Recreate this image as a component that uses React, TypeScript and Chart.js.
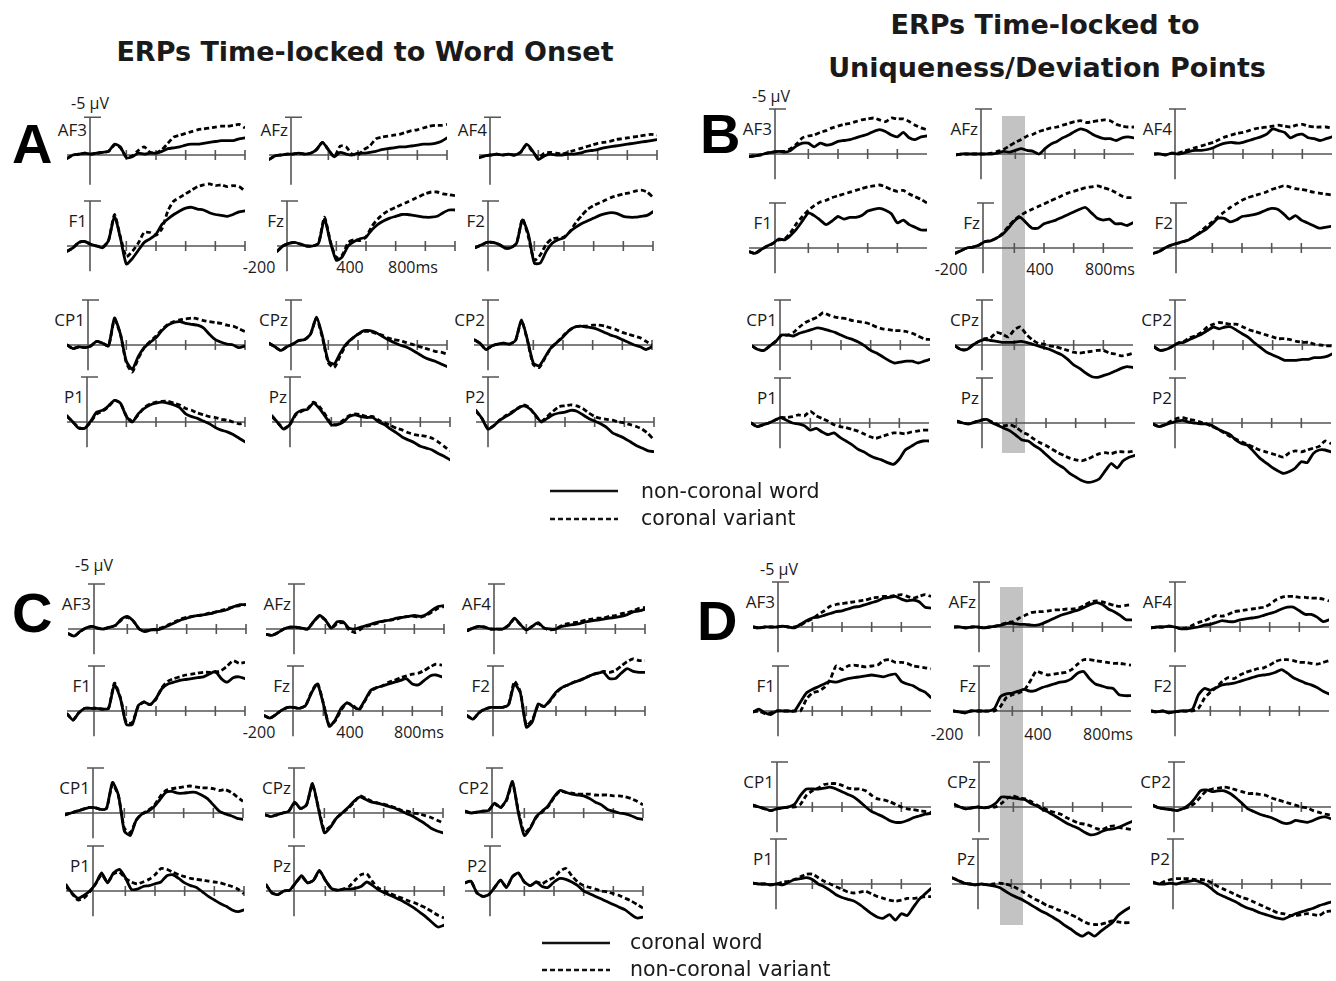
import React, { useEffect, useRef } from "react";
import { Chart, registerables } from "chart.js";
Chart.register(...registerables);

// ---------- time frame (ms) ----------
const FRAME_START = -150;
const FRAME_STEP = 40;
const FRAME_END = 1050;
const TICKS_AC = [250, 450, 650, 850, 1050];
const TICKS_BD = [250, 450, 650, 850];
const TIME_LABELS = ["-200", "400", "800ms"];
const ELECTRODES = [["AF3", "AFz", "AF4"], ["F1", "Fz", "F2"], ["CP1", "CPz", "CP2"], ["P1", "Pz", "P2"]];

// ---------- data (µV, negative up), sampled every 40 ms from -150 ms ----------
// Panel A
const A_AF3_S = [0.4,0,-0.1,-0.2,-0.1,-0.2,-0.3,-0.4,-1.2,-0.9,0.3,0.2,-0.2,-0.1,-0.2,-0.2,-0.4,-0.7,-0.8,-0.9,-1.1,-1.2,-1.2,-1.3,-1.4,-1.5,-1.6,-1.6,-1.6,-1.8,-1.9];
const A_AF3_D = [0.4,0,-0.1,-0.2,-0.1,-0.2,-0.3,-0.4,-1.1,-0.8,0.2,0.1,-0.5,-0.9,-0.3,-0.2,-0.6,-1.3,-2.0,-2.2,-2.4,-2.6,-2.8,-2.9,-3.0,-3.1,-3.2,-3.2,-3.3,-3.4,-3.0];
const A_AFz_S = [0.5,0.1,0,-0.1,-0.1,-0.2,-0.1,-0.2,-0.6,-1.4,-0.6,0.2,-0.3,-0.1,0,-0.2,-0.2,-0.3,-0.4,-0.6,-0.7,-0.8,-0.9,-0.9,-1.0,-1.1,-1.2,-1.2,-1.3,-1.5,-1.9];
const A_AFz_D = [0.5,0.1,0,-0.1,-0.1,-0.2,-0.1,-0.2,-0.6,-1.4,-0.6,0.2,-1.0,-0.9,-0.1,0,-0.6,-1.0,-1.8,-2.0,-2.1,-2.2,-2.3,-2.5,-2.7,-2.8,-3.0,-3.2,-3.3,-3.3,-3.4];
const A_AF4_S = [0.3,0.1,0,-0.1,0,-0.1,0,-0.3,-1.2,-0.5,0.5,0.1,-0.1,0,0,-0.1,-0.1,-0.2,-0.4,-0.5,-0.6,-0.8,-0.9,-1.0,-1.1,-1.2,-1.3,-1.4,-1.5,-1.6,-1.7];
const A_AF4_D = [0.3,0.1,0,-0.1,0,-0.1,0,-0.3,-1.1,-0.4,0.3,-0.2,-0.3,-0.2,-0.1,-0.3,-0.5,-0.7,-0.9,-1.1,-1.3,-1.4,-1.5,-1.7,-1.8,-1.9,-2.0,-2.1,-2.2,-2.3,-2.2];
const A_F1_S = [0.6,0.2,-0.4,-0.5,-0.2,0,0.2,-0.6,-3.3,-0.9,2.0,1.4,0.5,-0.4,-0.8,-1.3,-2.4,-3.0,-3.5,-3.9,-4.2,-4.3,-4.1,-4.0,-3.7,-3.5,-3.4,-3.3,-3.5,-3.8,-3.9];
const A_F1_D = [0.6,0.2,-0.4,-0.5,-0.2,0,0.1,-0.6,-3.5,-1.0,1.2,0.6,-0.3,-1.5,-1.5,-1.2,-1.9,-3.9,-5.0,-5.4,-5.8,-6.2,-6.6,-6.8,-6.9,-6.7,-6.8,-6.6,-6.7,-6.6,-6.1];
const A_Fz_S = [0.6,0,-0.3,-0.4,-0.2,0,0,-0.3,-3.0,-0.4,1.6,1.2,0,-0.5,-0.8,-1.0,-1.8,-2.4,-2.8,-3.1,-3.3,-3.5,-3.5,-3.4,-3.3,-3.2,-3.2,-3.3,-3.7,-4.0,-4.0];
const A_Fz_D = [0.6,0,-0.3,-0.4,-0.2,0,0,-0.3,-3.2,-0.5,1.3,1.0,-0.4,-0.7,-0.6,-1.0,-2.2,-3.0,-3.6,-4.0,-4.3,-4.6,-4.9,-5.2,-5.5,-5.8,-6.0,-6.0,-5.8,-5.7,-5.6];
const A_F2_S = [0.2,-0.1,-0.4,-0.4,-0.2,0.2,0.2,-0.3,-2.9,-1.3,1.9,1.9,0.6,-0.3,-0.7,-0.9,-1.6,-2.1,-2.5,-2.8,-3.1,-3.4,-3.6,-3.7,-3.6,-3.3,-3.2,-3.2,-3.3,-3.4,-3.8];
const A_F2_D = [0.2,-0.1,-0.4,-0.4,-0.2,0.2,0.2,-0.3,-3.0,-1.0,1.6,1.0,-0.2,-0.8,-0.9,-1.0,-1.6,-2.6,-3.4,-4.1,-4.5,-4.8,-5.1,-5.4,-5.6,-5.8,-5.9,-6.1,-6.2,-6.0,-5.4];
const A_CP1_S = [0,0.4,0.2,0.3,0.1,-0.4,-0.2,0.1,-3.0,-1.2,1.8,2.7,1.3,0.3,-0.3,-0.8,-1.6,-2.2,-2.5,-2.6,-2.4,-2.3,-2.2,-1.9,-1.2,-0.6,-0.3,-0.1,0,0.3,0.1];
const A_CP1_D = [0,0.4,0.2,0.3,0.1,-0.4,-0.2,0.1,-2.8,-1.2,2.0,3.0,1.5,0.3,-0.4,-1.0,-1.7,-2.3,-2.6,-2.8,-2.9,-3.0,-2.9,-2.7,-2.6,-2.5,-2.4,-2.2,-2.1,-1.8,-1.5];
const A_CPz_S = [-0.2,0.2,0.6,0.2,-0.1,-0.5,-0.6,-1.2,-3.1,-1.0,1.8,2.1,0.9,-0.1,-0.7,-1.2,-1.6,-1.6,-1.4,-1.0,-0.6,-0.3,0,0.2,0.5,0.9,1.3,1.6,1.8,2.1,2.4];
const A_CPz_D = [-0.2,0.2,0.6,0.2,-0.1,-0.5,-0.6,-1.2,-3.0,-0.8,2.0,2.5,1.2,0,-0.7,-1.2,-1.5,-1.5,-1.3,-1.1,-0.8,-0.6,-0.5,-0.3,-0.1,0.1,0.3,0.5,0.7,0.8,1.0];
const A_CP2_S = [-0.6,-0.2,0.5,0.1,-0.1,-0.2,-0.1,-0.5,-2.8,-0.6,2.0,2.3,1.3,0.3,-0.3,-0.9,-1.6,-2.0,-2.1,-2.0,-1.9,-1.7,-1.4,-1.1,-0.9,-0.6,-0.3,0,0.2,0.5,0.2];
const A_CP2_D = [-0.6,-0.2,0.5,0.1,-0.1,-0.2,-0.1,-0.5,-2.7,-0.5,2.2,2.5,1.4,0.3,-0.3,-1.0,-1.6,-2.0,-2.1,-2.1,-2.2,-2.2,-2.1,-1.9,-1.7,-1.4,-1.2,-1.0,-0.8,-0.4,0];
const A_P1_S = [-0.7,0,0.7,0.7,-0.1,-1.1,-1.3,-1.8,-2.4,-2.1,-0.6,0,-0.9,-1.5,-1.9,-2.1,-2.2,-2.1,-1.9,-1.6,-0.9,-0.6,-0.4,-0.1,0.2,0.6,0.9,1.1,1.4,1.8,2.2];
const A_P1_D = [-0.6,0,0.6,0.7,0,-0.9,-1.2,-1.7,-2.4,-2.1,-0.7,-0.1,-0.8,-1.6,-2.0,-2.2,-2.3,-2.3,-2.1,-1.9,-1.5,-1.3,-1.0,-0.8,-0.6,-0.5,-0.3,-0.2,0,0.2,0.1];
const A_Pz_S = [-0.7,0.1,0.8,0.3,-0.9,-1.3,-1.4,-2.1,-1.5,-0.6,0.3,0.3,0,-0.6,-0.8,-0.6,-0.5,-0.5,0,0.3,0.8,1.2,1.7,2.0,2.3,2.7,2.9,3.1,3.5,3.8,4.2];
const A_Pz_D = [-0.6,0.1,0.7,0.3,-0.8,-1.2,-1.5,-2.2,-1.7,-0.8,0.2,0.3,-0.2,-0.7,-0.9,-0.8,-0.6,-0.6,-0.2,0.1,0.4,0.7,0.9,1.2,1.4,1.5,1.6,1.8,2.2,2.7,3.2];
const A_P2_S = [-1.3,-0.4,0.8,0.4,-0.2,-0.6,-1.0,-1.5,-1.8,-1.5,-0.8,0,-0.4,-0.8,-1.0,-1.1,-1.3,-1.2,-0.8,-0.4,-0.1,0.2,0.6,1.2,1.5,1.8,2.2,2.6,2.9,3.2,3.3];
const A_P2_D = [-1.2,-0.4,0.7,0.4,-0.2,-0.7,-1.1,-1.5,-1.9,-1.6,-0.7,-0.1,-0.6,-1.2,-1.7,-1.8,-1.9,-1.8,-1.5,-1.0,-0.6,-0.4,-0.3,-0.2,0,0.1,0.3,0.5,0.8,1.3,2.0];
// Panel B
const B_AF3_S = [0.3,0.2,0.1,-0.1,-0.2,-0.3,-0.2,-0.4,-0.9,-1.2,-1.2,-0.8,-1.2,-1.0,-1.1,-1.4,-1.5,-1.6,-1.8,-2.0,-2.2,-2.5,-2.7,-2.5,-2.1,-1.9,-2.4,-1.8,-1.6,-1.9,-2.0];
const B_AF3_D = [0.3,0.2,0.1,-0.1,-0.2,-0.3,-0.3,-0.6,-1.1,-1.8,-2.0,-2.1,-2.4,-2.6,-2.9,-3.1,-3.3,-3.4,-3.6,-3.8,-3.9,-4.0,-3.8,-3.6,-4.0,-3.9,-3.9,-3.6,-3.2,-2.9,-2.7];
const B_AFz_S = [0.1,0,0,0,0,0,0,-0.1,-0.3,-0.2,-0.4,-0.6,-0.4,-0.3,0,-0.6,-1.1,-1.4,-1.8,-2.1,-2.5,-2.8,-2.6,-2.2,-1.9,-1.7,-1.7,-1.5,-1.8,-1.9,-1.8];
const B_AFz_D = [0.1,0,0,0,0,0,-0.1,-0.3,-0.5,-0.9,-1.3,-1.6,-2.0,-2.2,-2.5,-2.7,-2.9,-3.0,-3.2,-3.4,-3.6,-3.7,-3.5,-3.6,-3.7,-3.8,-3.7,-3.3,-3.1,-3.0,-3.0];
const B_AF4_S = [0,0,0.1,-0.1,0,-0.1,-0.3,-0.4,-0.4,-0.5,-0.7,-1.0,-1.2,-1.3,-1.2,-1.3,-1.5,-1.7,-1.9,-2.2,-2.8,-2.6,-2.4,-1.8,-2.1,-2.2,-1.8,-1.7,-1.5,-1.7,-1.9];
const B_AF4_D = [0,0,0.1,-0.1,-0.1,-0.3,-0.5,-0.7,-0.9,-1.1,-1.3,-1.6,-1.9,-2.1,-2.3,-2.4,-2.6,-2.8,-2.9,-3.0,-3.1,-3.2,-3.1,-3.0,-3.2,-3.3,-3.1,-3.0,-3.0,-3.0,-2.9];
const B_F1_S = [0.4,0.6,0.2,-0.2,-0.5,-1.0,-0.9,-1.4,-2.1,-3.0,-3.9,-3.6,-3.1,-2.6,-3.0,-3.5,-3.2,-3.4,-3.4,-3.6,-4.1,-4.3,-4.4,-4.2,-3.8,-2.8,-3.1,-2.6,-2.3,-2.0,-2.0];
const B_F1_D = [0.4,0.6,0.2,-0.2,-0.5,-0.9,-1.0,-1.7,-2.7,-3.5,-4.2,-4.7,-5.1,-5.3,-5.6,-5.8,-6.0,-6.2,-6.4,-6.6,-6.8,-6.9,-7.0,-6.8,-6.5,-6.3,-6.4,-6.0,-5.7,-5.4,-5.0];
const B_Fz_S = [0.6,0.3,0,-0.1,-0.3,-0.7,-0.8,-1.1,-1.5,-2.2,-3.0,-3.4,-2.8,-2.2,-2.2,-2.7,-2.9,-3.1,-3.4,-3.7,-4.0,-4.3,-4.5,-3.9,-3.3,-3.1,-3.2,-2.7,-2.7,-2.5,-2.8];
const B_Fz_D = [0.6,0.3,0,-0.1,-0.3,-0.7,-0.8,-1.1,-1.6,-2.4,-3.1,-3.6,-4.0,-4.3,-4.6,-4.9,-5.2,-5.5,-5.8,-6.1,-6.3,-6.5,-6.7,-6.8,-6.9,-6.7,-6.5,-6.2,-5.8,-5.6,-5.6];
const B_F2_S = [0.6,0.4,0,-0.3,-0.5,-0.7,-0.9,-1.3,-1.7,-2.1,-2.7,-3.3,-3.3,-2.9,-3.1,-3.5,-3.6,-3.7,-3.9,-4.2,-4.4,-4.3,-3.8,-3.2,-3.6,-3.1,-2.8,-2.5,-2.2,-2.3,-2.4];
const B_F2_D = [0.6,0.4,0,-0.3,-0.5,-0.7,-0.9,-1.3,-1.8,-2.4,-2.9,-3.5,-4.0,-4.5,-4.9,-5.3,-5.6,-5.8,-6.0,-6.2,-6.5,-6.7,-6.9,-6.8,-6.6,-6.5,-6.4,-6.2,-6.1,-6.0,-5.9];
const B_CP1_S = [0.1,0.5,0.6,0.1,-0.4,-1.1,-1.1,-1.0,-1.3,-1.5,-1.7,-1.9,-1.8,-1.6,-1.4,-1.1,-0.8,-0.6,-0.3,0.1,0.6,0.9,1.3,1.7,2.0,1.9,1.8,1.8,2.0,1.8,1.6];
const B_CP1_D = [0.1,0.5,0.6,0.1,-0.4,-1.1,-1.1,-1.4,-2.0,-2.5,-2.8,-3.1,-3.6,-3.3,-3.1,-3.0,-2.9,-2.7,-2.6,-2.5,-2.3,-2.0,-1.8,-1.7,-1.6,-1.6,-1.5,-1.3,-1.0,-0.7,-0.6];
const B_CPz_S = [0.1,0.5,0.5,0,-0.4,-0.6,-0.5,-0.4,-0.3,-0.3,-0.3,-0.4,-0.3,-0.1,0.1,0.3,0.5,0.8,1.1,1.6,2.2,2.6,3.1,3.5,3.6,3.4,3.2,2.9,2.6,2.4,2.5];
const B_CPz_D = [0.1,0.5,0.5,0,-0.4,-0.7,-0.8,-1.4,-1.2,-0.9,-1.7,-2.0,-1.2,-0.6,-0.2,-0.1,0.1,0.2,0.4,0.6,0.8,0.9,0.8,0.7,0.6,0.6,0.9,1.0,1.2,1.1,0.9];
const B_CP2_S = [0.2,0.6,0.5,0.2,-0.2,-0.3,-0.6,-0.9,-1.2,-1.6,-2.0,-1.8,-2.0,-2.0,-1.6,-1.2,-0.8,-0.2,0.3,0.8,1.1,1.4,1.7,1.7,1.7,1.6,1.6,1.4,1.4,1.3,1.0];
const B_CP2_D = [0.2,0.6,0.5,0.2,-0.2,-0.4,-0.8,-1.0,-1.4,-2.0,-2.3,-2.5,-2.4,-2.3,-2.3,-2.0,-1.7,-1.5,-1.3,-1.1,-0.9,-0.7,-0.7,-0.6,-0.4,-0.3,-0.3,-0.1,0,0.1,0.1];
const B_P1_S = [0,0.4,0.2,0,-0.3,-0.6,-0.3,0,0.1,0.3,0.8,0.6,1.0,1.3,1.1,1.6,2.0,2.4,2.9,3.2,3.6,3.9,4.1,4.4,4.6,4.0,3.0,2.6,2.2,2.0,2.0];
const B_P1_D = [0,0.4,0.2,0,-0.3,-0.6,-0.6,-0.7,-0.9,-0.8,-1.3,-0.8,-0.5,-0.2,0.2,0.4,0.5,0.7,0.9,1.2,1.5,1.7,1.5,1.3,1.1,1.1,1.2,1.0,0.9,0.8,0.8];
const B_Pz_S = [-0.2,0,0.1,-0.1,-0.3,-0.4,0,0.3,0.6,0.9,1.4,1.9,2.0,2.5,2.9,3.5,4.1,4.6,5.0,5.6,6.0,6.4,6.6,6.5,6.2,5.3,4.5,5.0,4.2,3.8,3.6];
const B_Pz_D = [-0.2,0,0.1,-0.1,-0.3,-0.4,-0.1,0.2,0.3,0.2,0.5,1.0,1.3,1.8,2.2,2.5,2.9,3.3,3.6,3.9,4.1,4.2,4.0,3.7,3.4,3.3,3.4,3.2,3.2,3.2,3.1];
const B_P2_S = [0.1,0.4,0.2,0,-0.2,-0.3,-0.1,0,0.1,0.1,0.3,0.7,1.0,1.3,1.9,2.3,2.5,3.2,3.9,4.4,4.9,5.3,5.6,5.4,5.0,4.3,4.4,3.4,3.0,3.0,3.2];
const B_P2_D = [0.1,0.4,0.2,-0.2,-0.5,-0.6,-0.4,-0.3,-0.1,0.1,0.4,0.7,1.1,1.5,1.8,2.1,2.4,2.7,3.0,3.2,3.4,3.6,3.8,3.3,3.1,3.2,3.0,2.8,2.6,2.0,2.3];
// Panel C
const C_AF3_S = [0.5,0.8,0.3,-0.1,-0.3,-0.1,0,-0.2,-0.4,-1.1,-1.4,-0.9,0,0.3,0.1,0.1,-0.1,-0.4,-0.7,-1.0,-1.2,-1.4,-1.5,-1.6,-1.7,-1.9,-2.0,-2.2,-2.5,-2.7,-2.7];
const C_AF3_D = [0.5,0.8,0.3,-0.1,-0.3,-0.1,0,-0.2,-0.4,-1.0,-1.3,-0.9,0,0.2,0.1,0,-0.2,-0.5,-0.8,-1.1,-1.3,-1.4,-1.5,-1.6,-1.8,-1.9,-2.1,-2.3,-2.5,-2.6,-2.7];
const C_AFz_S = [0.6,0.7,0.4,0,-0.2,-0.2,-0.1,0,-0.8,-1.5,-1.0,-0.1,-0.8,-0.8,-0.1,0,-0.2,-0.4,-0.6,-0.8,-0.9,-1.0,-1.2,-1.3,-1.4,-1.5,-1.4,-1.6,-2.1,-2.5,-2.6];
const C_AFz_D = [0.6,0.7,0.4,0,-0.2,-0.2,-0.1,0,-0.8,-1.4,-1.0,-0.1,-0.6,-0.7,0.1,0.4,0,-0.3,-0.5,-0.7,-0.9,-1.0,-1.1,-1.3,-1.4,-1.4,-1.3,-1.5,-1.9,-2.3,-2.5];
const C_AF4_S = [0.2,-0.1,-0.3,-0.2,0,0,0,-0.4,-1.2,-0.5,0.1,-0.3,-0.7,-0.1,0,0,-0.3,-0.4,-0.5,-0.6,-0.8,-0.9,-1.0,-1.1,-1.2,-1.3,-1.4,-1.6,-1.9,-2.0,-2.2];
const C_AF4_D = [0.2,-0.1,-0.3,-0.2,0,0,0,-0.4,-1.1,-0.5,0.1,-0.3,-0.6,-0.1,0.1,0,-0.4,-0.6,-0.7,-0.8,-1.0,-1.1,-1.2,-1.2,-1.4,-1.5,-1.7,-1.8,-2.0,-2.3,-2.4];
const C_F1_S = [0.3,1.0,0.2,-0.3,-0.3,-0.3,-0.2,-0.3,-2.9,-1.4,1.5,1.5,-0.6,-1.0,-0.7,-1.4,-2.5,-3.0,-3.2,-3.4,-3.5,-3.6,-3.7,-3.8,-4.1,-4.4,-3.6,-3.2,-3.7,-3.8,-3.6];
const C_F1_D = [0.3,1.0,0.2,-0.3,-0.3,-0.3,-0.2,-0.3,-3.1,-1.5,1.3,1.3,-0.5,-1.0,-0.7,-1.3,-2.6,-3.3,-3.6,-3.8,-4.0,-4.1,-4.2,-4.3,-4.3,-4.3,-4.5,-5.0,-5.6,-5.3,-5.4];
const C_Fz_S = [0.5,0.8,0.4,-0.1,-0.4,-0.4,-0.3,-0.6,-2.0,-3.0,-0.8,1.7,1.0,-0.3,-0.9,-0.5,-0.2,-1.2,-2.3,-2.6,-2.8,-3.0,-3.2,-3.4,-3.6,-3.0,-2.9,-3.4,-3.9,-4.0,-3.8];
const C_Fz_D = [0.5,0.8,0.4,-0.1,-0.4,-0.4,-0.3,-0.6,-2.1,-3.1,-0.9,1.6,1.1,-0.1,-0.9,-0.6,-0.1,-1.1,-2.2,-2.6,-2.8,-3.2,-3.4,-3.7,-3.9,-4.1,-4.2,-4.5,-4.9,-5.2,-5.1];
const C_F2_S = [0.5,0.9,0.2,-0.2,-0.4,-0.4,-0.4,-0.7,-3.0,-2.0,1.8,1.2,-0.8,-0.5,-1.2,-2.1,-2.6,-2.9,-3.2,-3.4,-3.7,-4.0,-4.2,-4.3,-3.6,-3.6,-4.2,-4.7,-4.4,-4.3,-4.3];
const C_F2_D = [0.5,0.9,0.2,-0.2,-0.4,-0.4,-0.4,-0.7,-3.3,-2.1,1.6,1.0,-0.6,-0.5,-1.1,-2.0,-2.6,-2.9,-3.2,-3.4,-3.7,-4.0,-4.2,-4.4,-4.3,-4.5,-5.0,-5.5,-5.8,-5.6,-5.6];
const C_CP1_S = [0.2,0,-0.2,-0.4,-0.6,-0.6,-0.4,-0.5,-3.4,-2.0,2.0,2.5,0.8,0.1,-0.2,-0.7,-1.5,-2.3,-2.4,-2.2,-2.2,-2.3,-2.3,-2.0,-1.6,-0.9,-0.2,0.1,0.3,0.6,0.7];
const C_CP1_D = [0.2,0,-0.2,-0.4,-0.6,-0.6,-0.4,-0.5,-3.2,-1.9,1.7,2.2,0.8,0.1,-0.3,-0.8,-1.8,-2.5,-2.7,-2.8,-2.9,-3.0,-2.9,-2.8,-2.8,-2.7,-2.5,-2.6,-2.3,-1.8,-1.3];
const C_CPz_S = [0.2,0.4,0.2,0,-0.2,-1.2,-0.5,-0.9,-3.3,-0.5,2.2,1.6,0.6,0,-0.6,-1.3,-1.8,-1.5,-1.2,-1.1,-0.9,-0.7,-0.5,-0.2,0.1,0.4,0.8,1.2,1.7,2.0,2.2];
const C_CPz_D = [0.2,0.4,0.2,0,-0.2,-1.1,-0.5,-0.9,-3.1,-0.6,1.9,1.5,0.6,0,-0.5,-1.2,-1.9,-1.6,-1.3,-1.1,-1.0,-0.8,-0.6,-0.3,-0.2,0,0.1,0.3,0.5,0.8,1.1];
const C_CP2_S = [-0.2,0,-0.1,-0.2,-0.3,-1.1,-0.6,-1.5,-3.5,0,2.5,1.7,0.4,-0.2,-0.8,-1.8,-2.5,-2.3,-2.1,-2.0,-1.9,-1.6,-1.2,-0.9,-0.4,-0.2,0,0.1,0.3,0.6,0.7];
const C_CP2_D = [-0.2,0,-0.1,-0.2,-0.3,-1.0,-0.6,-1.4,-3.3,-0.2,2.2,1.6,0.5,-0.1,-0.7,-1.7,-2.4,-2.3,-2.2,-2.1,-2.1,-2.1,-2.0,-2.0,-2.0,-1.9,-1.9,-1.8,-1.6,-1.3,-0.9];
const C_P1_S = [-0.7,0.2,0.8,0.5,0,-0.8,-2.0,-0.9,-2.0,-2.4,-1.5,-0.2,-0.2,-0.5,-0.6,-0.8,-1.0,-1.7,-1.8,-1.4,-0.9,-0.6,-0.4,0.1,0.6,1.0,1.4,1.7,2.1,2.3,2.1];
const C_P1_D = [-0.5,0.3,1.0,0.8,0.1,-0.8,-1.8,-1.0,-1.9,-2.1,-1.4,-1.0,-0.8,-1.0,-1.3,-1.8,-2.5,-2.4,-2.1,-1.8,-1.6,-1.4,-1.3,-1.2,-1.1,-1.0,-0.9,-0.7,-0.5,-0.2,0.3];
const C_Pz_S = [-0.7,0.2,0.4,0,-0.1,-0.9,-1.7,-0.9,-1.2,-2.3,-1.2,-0.3,-0.1,-0.2,-0.2,-0.3,-0.5,-1.0,-0.6,-0.1,0.2,0.5,0.8,1.1,1.5,1.9,2.4,2.9,3.5,4.0,3.8];
const C_Pz_D = [-0.7,0.2,0.4,0,-0.1,-0.9,-1.6,-0.9,-1.2,-2.2,-1.2,-0.3,-0.1,-0.2,-0.5,-1.2,-1.8,-1.9,-1.0,-0.3,0,0.3,0.6,0.8,1.1,1.3,1.6,1.9,2.3,2.7,3.0];
const C_P2_S = [-0.9,-1.1,0.2,0.6,0.4,-0.4,-1.2,-0.4,-1.6,-2.0,-1.0,-0.6,-1.0,-0.5,-0.4,-1.0,-1.4,-1.3,-1.0,-0.6,0,0.3,0.6,0.9,1.2,1.5,1.8,2.1,2.6,3.0,2.9];
const C_P2_D = [-0.9,-1.1,0.2,0.6,0.4,-0.4,-1.2,-0.4,-1.6,-2.0,-1.0,-0.6,-1.0,-0.8,-1.2,-1.5,-2.2,-2.5,-1.7,-1.0,-0.6,-0.4,-0.2,0,0.1,0.3,0.5,0.8,1.1,1.5,1.9];
// Panel D
const D_AF3_S = [0,0.1,0,0,0,-0.1,0,0.1,-0.3,-0.7,-1.0,-1.1,-1.3,-1.5,-1.7,-1.8,-2.0,-2.2,-2.3,-2.5,-2.7,-2.9,-3.2,-3.3,-3.4,-3.1,-2.9,-3.0,-2.8,-2.2,-2.1];
const D_AF3_D = [0,0.1,0,0,0,-0.1,0,0,-0.2,-0.6,-0.9,-1.4,-1.8,-2.3,-2.5,-2.6,-2.7,-2.8,-2.9,-3.0,-3.2,-3.3,-3.4,-3.4,-3.5,-3.6,-3.4,-3.2,-3.4,-3.6,-3.4];
const D_AFz_S = [0,0,0.1,0,0,0.1,0,-0.1,-0.2,-0.4,-0.4,-0.3,-0.3,-0.2,-0.2,-0.4,-0.7,-1.0,-1.3,-1.5,-1.7,-1.9,-2.2,-2.5,-2.7,-2.5,-2.0,-1.7,-1.3,-0.8,-0.8];
const D_AFz_D = [0,0,0.1,0,0,0.1,0,-0.1,-0.3,-0.5,-0.6,-1.0,-1.3,-1.6,-1.7,-1.7,-1.8,-1.9,-1.9,-2.0,-2.0,-2.1,-2.4,-2.8,-2.9,-2.8,-2.6,-2.4,-2.3,-2.4,-2.5];
const D_AF4_S = [0.1,0,0,-0.1,0,0.2,0.2,0.1,0,-0.2,-0.3,-0.5,-0.7,-0.6,-0.6,-0.8,-0.9,-1.0,-1.1,-1.3,-1.5,-1.7,-2.0,-2.2,-2.2,-1.8,-1.4,-1.4,-1.1,-0.6,-0.8];
const D_AF4_D = [0.1,0,0,-0.1,0,0.2,0.1,-0.2,-0.5,-0.7,-1.0,-1.3,-1.2,-1.4,-1.7,-1.8,-1.9,-2.0,-2.1,-2.2,-2.5,-3.0,-3.3,-3.4,-3.4,-3.3,-3.3,-3.2,-3.2,-3.1,-2.9];
const D_F1_S = [0.1,-0.2,0.2,0.4,0,0,0,0,-1.0,-2.0,-2.4,-2.7,-3.0,-3.3,-3.2,-3.4,-3.6,-3.7,-3.8,-3.9,-4.0,-3.9,-3.8,-4.0,-4.1,-3.3,-3.0,-2.8,-2.4,-2.1,-1.5];
const D_F1_D = [0.1,0,0.3,0.2,0,0,0,0,0,-1.3,-2.0,-2.2,-2.6,-3.5,-5.0,-4.6,-5.0,-5.1,-5.0,-4.9,-5.0,-5.1,-5.6,-5.7,-5.4,-5.4,-5.3,-5.0,-4.9,-4.8,-4.7];
const D_Fz_S = [0,0.1,0.2,0,0,0,0,-0.3,-1.6,-1.9,-2.0,-2.2,-2.4,-2.2,-2.3,-2.6,-2.8,-3.0,-3.2,-3.3,-3.6,-4.2,-4.4,-3.6,-3.0,-2.8,-2.6,-2.5,-1.8,-1.7,-1.7];
const D_Fz_D = [0,0.1,0.2,0,0,0,0,0,-0.5,-1.5,-1.8,-2.0,-2.3,-3.3,-4.4,-4.2,-4.0,-4.1,-4.2,-4.3,-4.6,-5.2,-5.7,-5.7,-5.6,-5.5,-5.4,-5.3,-5.3,-5.2,-5.1];
const D_F2_S = [0,0.1,0,0.2,0.1,0,0,-0.2,-1.8,-2.5,-2.3,-2.6,-2.9,-3.0,-3.1,-3.3,-3.5,-3.7,-3.9,-4.0,-4.1,-4.3,-4.6,-4.2,-3.7,-3.4,-3.1,-2.9,-2.6,-2.2,-1.9];
const D_F2_D = [0,0.1,0,0.2,0.1,0,0,0,-0.3,-1.4,-2.1,-2.6,-3.3,-3.7,-3.6,-4.0,-4.3,-4.5,-4.7,-4.8,-5.1,-5.5,-5.7,-5.7,-5.6,-5.4,-5.4,-5.3,-5.2,-5.4,-5.6];
const D_CP1_S = [-0.2,0,0.2,0.4,0.2,0.1,0,-0.3,-1.3,-2.0,-2.0,-2.0,-2.1,-2.2,-2.0,-1.7,-1.4,-1.1,-0.6,0,0.5,0.8,1.1,1.5,1.7,1.7,1.5,1.2,1.0,0.8,0.7];
const D_CP1_D = [-0.2,0,0.2,0.4,0.2,0.1,0,0,-0.3,-1.3,-1.8,-2.1,-2.5,-2.6,-2.6,-2.4,-2.1,-2.0,-2.0,-1.8,-1.3,-0.9,-0.8,-0.6,-0.3,0,0.2,0.3,0.4,0.5,0.6];
const D_CPz_S = [-0.3,0,0.2,0.1,0,0.1,0,-0.4,-1.1,-1.1,-1.0,-0.9,-0.8,-0.4,-0.1,0.3,0.6,1.0,1.4,1.8,2.1,2.4,2.8,3.1,3.0,2.7,2.5,2.4,2.2,1.9,1.6];
const D_CPz_D = [-0.3,0,0.2,0.1,0,0.1,0,0,-0.4,-1.0,-1.2,-1.0,-0.9,-0.6,-0.2,0.1,0.4,0.6,0.8,1.2,1.5,1.8,1.9,2.1,2.4,2.5,2.2,2.1,2.3,2.4,2.5];
const D_CP2_S = [-0.2,0.1,0.2,0.3,0.4,0.2,-0.2,-0.9,-1.8,-1.9,-1.7,-1.8,-1.8,-1.5,-1.0,-0.4,0.2,0.5,0.8,1.0,1.2,1.5,1.8,1.8,1.5,1.6,1.7,1.5,1.2,1.1,1.3];
const D_CP2_D = [-0.2,0.1,0.2,0.3,0.4,0.2,0,-0.4,-1.1,-1.8,-2.0,-2.1,-2.2,-2.1,-1.9,-1.7,-1.5,-1.5,-1.4,-1.3,-1.0,-0.8,-0.6,-0.4,-0.2,0,0.1,0.4,0.6,0.8,0.9];
const D_P1_S = [-0.1,0,0,0.1,0,0.1,-0.2,-0.5,-0.6,-0.7,-0.5,0,0.3,0.7,1.2,1.5,1.7,1.9,2.3,2.8,3.3,3.7,3.8,3.4,4.0,3.3,3.5,2.6,1.7,1.1,0.5];
const D_P1_D = [-0.1,0,0,0.1,0,-0.2,-0.3,-0.5,-0.8,-1.1,-1.1,-0.7,-0.3,0,0.3,0.6,0.9,1.0,0.9,0.8,1.1,1.4,1.6,1.8,1.9,1.8,1.6,1.6,1.5,1.4,1.4];
const D_Pz_S = [-0.7,-0.4,-0.1,0,0.1,0,0.1,0.2,0.4,0.8,1.2,1.5,1.8,2.2,2.6,3.0,3.3,3.7,4.1,4.6,5.0,5.5,5.8,5.4,5.8,5.3,4.8,4.3,3.5,3.0,2.6];
const D_Pz_D = [-0.7,-0.4,-0.1,0,0.1,0,0.1,0,-0.1,0,0.2,0.5,0.9,1.3,1.7,2.0,2.4,2.6,2.9,3.1,3.4,3.7,4.1,4.4,4.5,4.5,4.3,4.1,4.2,4.3,4.3];
const D_P2_S = [-0.2,0,0,-0.1,0,-0.2,-0.3,-0.4,-0.2,0.1,0.6,1.1,1.4,1.7,2.0,2.4,2.7,2.9,3.2,3.4,3.6,3.8,3.9,3.6,3.3,3.1,2.9,2.7,2.4,2.2,2.0];
const D_P2_D = [-0.2,0,-0.3,-0.5,-0.6,-0.6,-0.6,-0.5,-0.5,-0.4,-0.1,0.3,0.6,0.9,1.2,1.5,1.7,2.0,2.3,2.6,2.9,3.2,3.3,3.5,3.5,3.4,3.3,3.4,3.5,3.1,3.0];

const SERIES: Record<string, number[][][][]> = {
  A: [[[A_AF3_S, A_AF3_D], [A_AFz_S, A_AFz_D], [A_AF4_S, A_AF4_D]], [[A_F1_S, A_F1_D], [A_Fz_S, A_Fz_D], [A_F2_S, A_F2_D]], [[A_CP1_S, A_CP1_D], [A_CPz_S, A_CPz_D], [A_CP2_S, A_CP2_D]], [[A_P1_S, A_P1_D], [A_Pz_S, A_Pz_D], [A_P2_S, A_P2_D]]],
  B: [[[B_AF3_S, B_AF3_D], [B_AFz_S, B_AFz_D], [B_AF4_S, B_AF4_D]], [[B_F1_S, B_F1_D], [B_Fz_S, B_Fz_D], [B_F2_S, B_F2_D]], [[B_CP1_S, B_CP1_D], [B_CPz_S, B_CPz_D], [B_CP2_S, B_CP2_D]], [[B_P1_S, B_P1_D], [B_Pz_S, B_Pz_D], [B_P2_S, B_P2_D]]],
  C: [[[C_AF3_S, C_AF3_D], [C_AFz_S, C_AFz_D], [C_AF4_S, C_AF4_D]], [[C_F1_S, C_F1_D], [C_Fz_S, C_Fz_D], [C_F2_S, C_F2_D]], [[C_CP1_S, C_CP1_D], [C_CPz_S, C_CPz_D], [C_CP2_S, C_CP2_D]], [[C_P1_S, C_P1_D], [C_Pz_S, C_Pz_D], [C_P2_S, C_P2_D]]],
  D: [[[D_AF3_S, D_AF3_D], [D_AFz_S, D_AFz_D], [D_AF4_S, D_AF4_D]], [[D_F1_S, D_F1_D], [D_Fz_S, D_Fz_D], [D_F2_S, D_F2_D]], [[D_CP1_S, D_CP1_D], [D_CPz_S, D_CPz_D], [D_CP2_S, D_CP2_D]], [[D_P1_S, D_P1_D], [D_Pz_S, D_Pz_D], [D_P2_S, D_P2_D]]],
};

// window highlighted in the uniqueness-point panels (frame ms)
const UP_WINDOW = [165, 320];

// ---------- layout (page px) ----------
const FRAME_W = 178;
const PX_PER_UV = 9;
const Y_MIN = -8, Y_MAX = 8;
const PAD = 6;
const LAYOUT: Record<string, { left: number[][]; axis: number[][]; base: number[] }> = {
  A: { left: [[67, 269, 479], [67, 277, 475], [67, 269, 474], [67, 272, 476]], axis: [[90, 291, 490], [90, 287, 488], [88, 291, 488], [87, 290, 488]], base: [155, 246, 345, 422] },
  B: { left: [[749, 956, 1154], [749, 955, 1153], [752, 955, 1154], [751, 957, 1153]], axis: [[775, 981, 1175], [775, 983, 1176], [780, 982, 1175], [780, 982, 1175]], base: [154, 248, 345, 423] },
  C: { left: [[68, 266, 467], [67, 264, 467], [65, 265, 465], [66, 266, 465]], axis: [[94, 294, 494], [94, 293, 493], [93, 294, 492], [93, 294, 490]], base: [629, 711, 813, 891] },
  D: { left: [[753, 954, 1151], [753, 953, 1151], [753, 954, 1153], [753, 952, 1153]], axis: [[778, 979, 1175], [778, 979, 1175], [777, 979, 1174], [776, 978, 1173]], base: [627, 711, 807, 884] },
};
const TIME_LABEL_POS: Record<string, number[][]> = {
  A: [[259, 268], [350, 268], [413, 268]],
  B: [[951, 270], [1040, 270], [1110, 270]],
  C: [[259, 733], [350, 733], [419, 733]],
  D: [[947, 735], [1038, 735], [1108, 735]],
};
const UV_LABEL_POS: Record<string, number[]> = { A: [90, 104], B: [771, 97], C: [94, 566], D: [779, 570] };
const LETTER_POS: Record<string, number[]> = { A: [12, 163], B: [700, 153], C: [12, 632], D: [697, 640] };
const BAR_V: Record<string, number[]> = { B: [116, 453], D: [587, 925] };

const AXIS_COLOR = "#555";
const LABEL_FONT = "'Open Sans', 'Noto Sans', sans-serif";

type Plot = {
  panel: string; row: number; col: number; label: string;
  solid: number[]; dashed: number[];
  left: number; axisX: number; base: number;
  axisF: number; ticks: number[]; top: number; bottom: number;
};

const PLOTS: Plot[] = [];
["A", "B", "C", "D"].forEach((panel) => {
  for (let r = 0; r < 4; r++) {
    for (let c = 0; c < 3; c++) {
      const L = LAYOUT[panel];
      const left = L.left[r][c];
      const axisX = L.axis[r][c];
      const axisF = FRAME_START + ((axisX - left) / FRAME_W) * (FRAME_END - FRAME_START);
      const shortTop = panel === "A" && r === 0;
      PLOTS.push({
        panel, row: r, col: c, label: ELECTRODES[r][c],
        solid: SERIES[panel][r][c][0], dashed: SERIES[panel][r][c][1],
        left, axisX, base: L.base[r], axisF,
        ticks: panel === "A" || panel === "C" ? TICKS_AC : TICKS_BD,
        top: shortTop ? -4.2 : -5, bottom: shortTop ? 3.3 : 2.8,
      });
    }
  }
});

function toPoints(vals: number[]) {
  return vals.map((v, i) => ({ x: FRAME_START + i * FRAME_STEP, y: v }));
}

function makeAxesPlugin(p: Plot) {
  return {
    id: "erpAxes",
    beforeDatasetsDraw(chart: any) {
      const { ctx } = chart;
      const x = chart.scales.x, y = chart.scales.y;
      ctx.save();
      ctx.strokeStyle = AXIS_COLOR;
      ctx.lineWidth = 1.6;
      ctx.beginPath();
      const y0 = y.getPixelForValue(0);
      ctx.moveTo(x.getPixelForValue(FRAME_START), y0);
      ctx.lineTo(x.getPixelForValue(FRAME_END), y0);
      const xa = x.getPixelForValue(p.axisF);
      const yt = y.getPixelForValue(p.top);
      ctx.moveTo(xa, yt);
      ctx.lineTo(xa, y.getPixelForValue(p.bottom));
      ctx.moveTo(xa - 6, yt);
      ctx.lineTo(xa + 11, yt);
      for (const t of p.ticks) {
        const xt = x.getPixelForValue(t);
        ctx.moveTo(xt, y.getPixelForValue(-0.55));
        ctx.lineTo(xt, y.getPixelForValue(0.55));
      }
      ctx.stroke();
      ctx.restore();
    },
  };
}

const CANVAS_W = FRAME_W + PAD * 2;
const CANVAS_H = (Y_MAX - Y_MIN) * PX_PER_UV;

function Txt(props: { x: number; y: number; children: React.ReactNode; size: number; align?: "left" | "center" | "right"; font?: string; weight?: number | string }) {
  const { x, y, size, align = "left", font = LABEL_FONT, weight = 400 } = props;
  const tx = align === "left" ? "0" : align === "center" ? "-50%" : "-100%";
  return (
    <div style={{ position: "absolute", left: x, top: y, transform: `translate(${tx}, -50%)`, fontFamily: font, fontSize: size, fontWeight: weight as any, lineHeight: 1.2, whiteSpace: "nowrap", color: "#1a1a1a" }}>
      {props.children}
    </div>
  );
}

function LegendLine(props: { x1: number; x2: number; y: number; dashed?: boolean }) {
  const { x1, x2, y, dashed } = props;
  return (
    <svg style={{ position: "absolute", left: x1, top: y - 3, overflow: "visible" }} width={x2 - x1} height={6}>
      <line x1={0} y1={3} x2={x2 - x1} y2={3} stroke="#111" strokeWidth={2.6} strokeDasharray={dashed ? "5 3" : undefined} />
    </svg>
  );
}

export default function App() {
  const refs = useRef<(HTMLCanvasElement | null)[]>([]);

  useEffect(() => {
    const charts = PLOTS.map((p, i) => {
      const canvas = refs.current[i]!;
      return new Chart(canvas, {
        type: "line",
        data: {
          datasets: [
            { data: toPoints(p.solid), borderColor: "#000", borderWidth: 2.8, pointRadius: 0, tension: 0.2, borderJoinStyle: "round", borderCapStyle: "round", fill: false },
            { data: toPoints(p.dashed), borderColor: "#000", borderWidth: 2.8, borderDash: [5, 3], pointRadius: 0, tension: 0.2, fill: false },
          ],
        },
        options: {
          animation: false,
          responsive: false,
          maintainAspectRatio: false,
          events: [],
          layout: { padding: { left: PAD, right: PAD, top: 0, bottom: 0 } },
          plugins: { legend: { display: false }, tooltip: { enabled: false } },
          scales: {
            x: { type: "linear", min: FRAME_START, max: FRAME_END, display: false },
            y: { type: "linear", min: Y_MIN, max: Y_MAX, reverse: true, display: false },
          },
        } as any,
        plugins: [makeAxesPlugin(p) as any],
      });
    });
    return () => charts.forEach((c) => c.destroy());
  }, []);

  const frameX = (panel: string, r: number, c: number, f: number) =>
    LAYOUT[panel].left[r][c] + ((f - FRAME_START) / (FRAME_END - FRAME_START)) * FRAME_W;

  return (
    <div style={{ position: "absolute", left: 0, top: 0, width: 1336, height: 981, background: "#fff", overflow: "hidden" }}>
      {/* highlighted windows */}
      {["B", "D"].map((panel) => {
        const x1 = frameX(panel, 1, 1, UP_WINDOW[0]);
        const x2 = frameX(panel, 1, 1, UP_WINDOW[1]);
        return <div key={"bar" + panel} style={{ position: "absolute", left: x1, top: BAR_V[panel][0], width: x2 - x1, height: BAR_V[panel][1] - BAR_V[panel][0], background: "#c3c3c3" }} />;
      })}

      {/* titles */}
      <Txt x={365} y={52} size={27} align="center" font="'DejaVu Sans', Verdana, sans-serif" weight={700}>ERPs Time-locked to Word Onset</Txt>
      <Txt x={1045} y={25} size={27} align="center" font="'DejaVu Sans', Verdana, sans-serif" weight={700}>ERPs Time-locked to</Txt>
      <Txt x={1047} y={68} size={27} align="center" font="'DejaVu Sans', Verdana, sans-serif" weight={700}>Uniqueness/Deviation Points</Txt>

      {/* panel letters */}
      {Object.keys(LETTER_POS).map((k) => (
        <div key={"L" + k} style={{ position: "absolute", left: LETTER_POS[k][0], top: LETTER_POS[k][1] - 47, fontFamily: "'Liberation Sans', Arial, sans-serif", fontWeight: 700, fontSize: 56, lineHeight: "56px", color: "#000" }}>{k}</div>
      ))}

      {/* µV scale labels and time labels */}
      {Object.keys(UV_LABEL_POS).map((k) => (
        <Txt key={"uv" + k} x={UV_LABEL_POS[k][0]} y={UV_LABEL_POS[k][1]} size={16} align="center">-5 µV</Txt>
      ))}
      {Object.keys(TIME_LABEL_POS).map((k) =>
        TIME_LABELS.map((t, i) => (
          <Txt key={"t" + k + i} x={TIME_LABEL_POS[k][i][0]} y={TIME_LABEL_POS[k][i][1]} size={16} align="center">{t}</Txt>
        ))
      )}

      {/* electrode labels */}
      {PLOTS.map((p, i) => (
        <Txt key={"e" + i} x={p.axisX - 3} y={p.base - 25} size={17} align="right">{p.label}</Txt>
      ))}

      {/* charts */}
      {PLOTS.map((p, i) => (
        <canvas
          key={"c" + i}
          ref={(el) => { refs.current[i] = el; }}
          width={CANVAS_W}
          height={CANVAS_H}
          style={{ position: "absolute", left: p.left - PAD, top: p.base + Y_MIN * PX_PER_UV, width: CANVAS_W, height: CANVAS_H }}
        />
      ))}

      {/* legends */}
      <LegendLine x1={550} x2={618} y={491} />
      <LegendLine x1={550} x2={618} y={519} dashed />
      <Txt x={641} y={491} size={20.5} font="'DejaVu Sans', Verdana, sans-serif">non-coronal word</Txt>
      <Txt x={641} y={518} size={20.5} font="'DejaVu Sans', Verdana, sans-serif">coronal variant</Txt>
      <LegendLine x1={542} x2={610} y={943} />
      <LegendLine x1={542} x2={610} y={970} dashed />
      <Txt x={630} y={942} size={20.5} font="'DejaVu Sans', Verdana, sans-serif">coronal word</Txt>
      <Txt x={630} y={969} size={20.5} font="'DejaVu Sans', Verdana, sans-serif">non-coronal variant</Txt>
    </div>
  );
}
